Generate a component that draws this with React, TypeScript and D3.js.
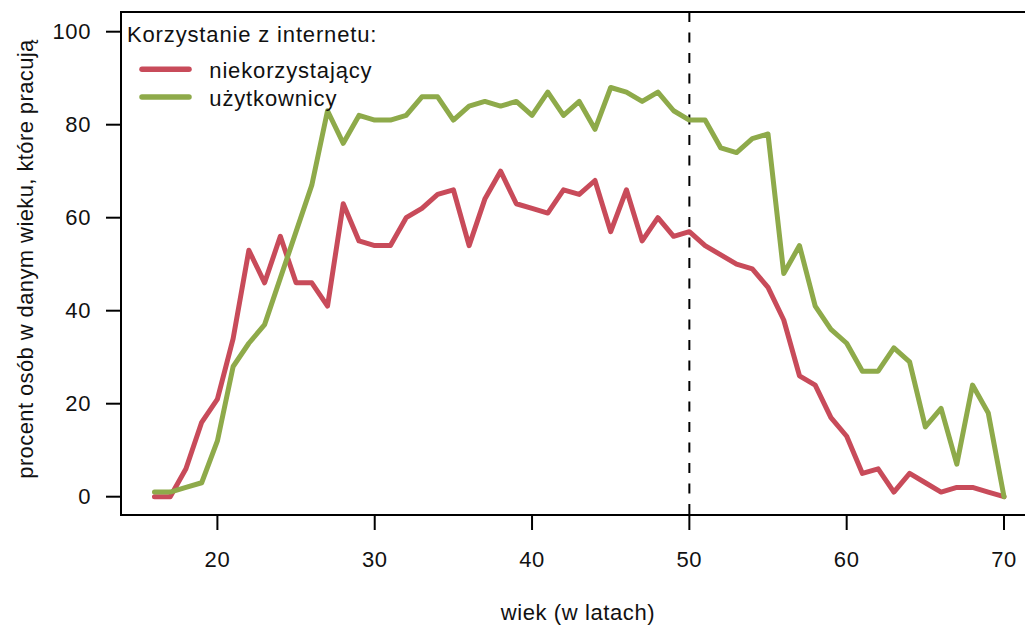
import React from 'react';
import * as d3 from 'd3';

const ages = [16, 17, 18, 19, 20, 21, 22, 23, 24, 25, 26, 27, 28, 29, 30, 31, 32, 33, 34, 35, 36, 37, 38, 39, 40, 41, 42, 43, 44, 45, 46, 47, 48, 49, 50, 51, 52, 53, 54, 55, 56, 57, 58, 59, 60, 61, 62, 63, 64, 65, 66, 67, 68, 69, 70];
const nonUsers = [0, 0, 6, 16, 21, 34, 53, 46, 56, 46, 46, 41, 63, 55, 54, 54, 60, 62, 65, 66, 54, 64, 70, 63, 62, 61, 66, 65, 68, 57, 66, 55, 60, 56, 57, 54, 52, 50, 49, 45, 38, 26, 24, 17, 13, 5, 6, 1, 5, 3, 1, 2, 2, 1, 0];
const users = [1, 1, 2, 3, 12, 28, 33, 37, 47, 57, 67, 83, 76, 82, 81, 81, 82, 86, 86, 81, 84, 85, 84, 85, 82, 87, 82, 85, 79, 88, 87, 85, 87, 83, 81, 81, 75, 74, 77, 78, 48, 54, 41, 36, 33, 27, 27, 32, 29, 15, 19, 7, 24, 18, 0];
const xTicks = [20, 30, 40, 50, 60, 70];
const yTicks = [0, 20, 40, 60, 80, 100];
const seriesNames = ['niekorzystający', 'użytkownicy'];
const seriesColors = ['#C84B5A', '#8EAA4A'];
const legendTitle = 'Korzystanie z internetu:';
const xTitle = 'wiek (w latach)';
const yTitle = 'procent osób w danym wieku, które pracują';
const refAge = 50;

export default function App() {
  const W = 1025;
  const H = 627;
  const left = 121, top = 12, bottom = 515, right = 1040;
  const x = d3.scaleLinear().domain([20, 70]).range([217.4, 1004]);
  const y = d3.scaleLinear().domain([0, 100]).range([496.7, 31.7]);
  const line = d3.line<number>().x((_, i) => x(ages[i])).y((d) => y(d));
  const series = [nonUsers, users];
  const font = { fontFamily: '"Liberation Sans", Arial, sans-serif', fontSize: 22, letterSpacing: 0.6, fill: '#111' } as any;
  const legendFont = { ...font, letterSpacing: 0.85 };

  return (
    <svg width={W} height={H} style={{ position: 'absolute', left: 0, top: 0, background: '#fff' }}>
      <rect x={0} y={0} width={W} height={H} fill="#fff" />
      {/* reference line */}
      <line x1={x(refAge)} x2={x(refAge)} y1={top} y2={bottom} stroke="#000" strokeWidth={2} strokeDasharray="10,10.5" />
      {/* data lines */}
      {series.map((s, i) => (
        <path key={i} d={line(s) || ''} fill="none" stroke={seriesColors[i]} strokeWidth={5} strokeLinejoin="round" strokeLinecap="round" />
      ))}
      {/* box */}
      <rect x={left} y={top} width={right - left} height={bottom - top} fill="none" stroke="#000" strokeWidth={2} />
      {/* y axis */}
      {yTicks.map((t) => (
        <g key={t}>
          <line x1={106} x2={left} y1={y(t)} y2={y(t)} stroke="#000" strokeWidth={2} />
          <text x={91} y={y(t) + 7.6} textAnchor="end" {...font}>{t}</text>
        </g>
      ))}
      {/* x axis */}
      {xTicks.map((t) => (
        <g key={t}>
          <line x1={x(t)} x2={x(t)} y1={bottom} y2={530} stroke="#000" strokeWidth={2} />
          <text x={x(t)} y={566.5} textAnchor="middle" {...font}>{t}</text>
        </g>
      ))}
      <text x={578} y={620} textAnchor="middle" {...font}>{xTitle}</text>
      <text transform={`translate(33,259) rotate(-90)`} textAnchor="middle" {...font} letterSpacing={0.4}>{yTitle}</text>
      {/* legend */}
      <text x={127} y={41.7} {...legendFont}>{legendTitle}</text>
      {seriesNames.map((n, i) => (
        <g key={n}>
          <line x1={142} x2={189} y1={69.3 + i * 27.6} y2={69.3 + i * 27.6} stroke={seriesColors[i]} strokeWidth={5.5} strokeLinecap="round" />
          <text x={209.3} y={78.3 + i * 27.6} {...legendFont}>{n}</text>
        </g>
      ))}
    </svg>
  );
}
